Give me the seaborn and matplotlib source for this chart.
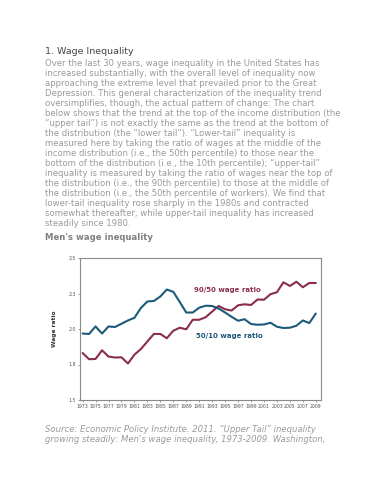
import matplotlib
matplotlib.use("Agg")
import matplotlib.pyplot as plt
import pandas as pd
import seaborn as sns

years = list(range(1973, 2010))
ratio_50_10 = [1.968, 1.965, 2.018, 1.968, 2.018, 2.014, 2.037, 2.06, 2.079, 2.148,
               2.194, 2.197, 2.229, 2.278, 2.262, 2.19, 2.116, 2.116, 2.15, 2.164,
               2.162, 2.144, 2.116, 2.086, 2.058, 2.069, 2.035, 2.03, 2.032, 2.044,
               2.016, 2.007, 2.009, 2.023, 2.06, 2.042, 2.109]
ratio_90_50 = [1.831, 1.787, 1.789, 1.85, 1.806, 1.799, 1.801, 1.757, 1.819, 1.859,
               1.912, 1.965, 1.965, 1.935, 1.988, 2.009, 1.998, 2.065, 2.065, 2.083,
               2.123, 2.162, 2.139, 2.13, 2.167, 2.174, 2.169, 2.208, 2.206, 2.245,
               2.259, 2.329, 2.303, 2.333, 2.294, 2.324, 2.324]
series_names = ["90/50 wage ratio", "50/10 wage ratio"]
y_ticks = [1.5, 1.75, 2.0, 2.25, 2.5]
y_tick_labels = ["1.5", "1.8", "2.0", "2.3", "2.5"]
x_ticks = list(range(1973, 2010, 2))

title = "1. Wage Inequality"
body = [
    "Over the last 30 years, wage inequality in the United States has",
    "increased substantially, with the overall level of inequality now",
    "approaching the extreme level that prevailed prior to the Great",
    "Depression. This general characterization of the inequality trend",
    "oversimplifies, though, the actual pattern of change: The chart",
    "below shows that the trend at the top of the income distribution (the",
    "\u201cupper tail\u201d) is not exactly the same as the trend at the bottom of",
    "the distribution (the \u201clower tail\u201d). \u201cLower-tail\u201d inequality is",
    "measured here by taking the ratio of wages at the middle of the",
    "income distribution (i.e., the 50th percentile) to those near the",
    "bottom of the distribution (i.e., the 10th percentile); \u201cupper-tail\u201d",
    "inequality is measured by taking the ratio of wages near the top of",
    "the distribution (i.e., the 90th percentile) to those at the middle of",
    "the distribution (i.e., the 50th percentile of workers). We find that",
    "lower-tail inequality rose sharply in the 1980s and contracted",
    "somewhat thereafter, while upper-tail inequality has increased",
    "steadily since 1980.",
]
subtitle = "Men's wage inequality"
source = [
    "Source: Economic Policy Institute. 2011. \u201cUpper Tail\u201d inequality",
    "growing steadily: Men's wage inequality, 1973-2009. Washington,",
]

df = pd.DataFrame({
    "year": years * 2,
    "ratio": ratio_90_50 + ratio_50_10,
    "series": [series_names[0]] * len(years) + [series_names[1]] * len(years),
})
colors = {series_names[0]: "#8a2d4d", series_names[1]: "#1d5a7a"}

sns.set_style("white")
plt.rcParams["font.family"] = ["DejaVu Sans"]

fig = plt.figure(figsize=(3.86, 5), dpi=100)
W, H = 386, 500

def fy(y):
    return 1 - y / H

fig.text(45 / W, fy(51), title, fontsize=6.8, color="#444444", va="center")
for i, line in enumerate(body):
    fig.text(45 / W, fy(63.7 + 10 * i), line, fontsize=6.1, color="#9a9a9a", va="center")
fig.text(45 / W, fy(238), subtitle, fontsize=6.1, color="#808080", weight="bold", va="center")
for i, line in enumerate(source):
    fig.text(45 / W, fy(429 + 10 * i), line, fontsize=6.15, color="#9a9a9a",
             style="italic", va="center")

ax = fig.add_axes([80 / W, fy(400), (321 - 80) / W, (400 - 258) / H])
sns.lineplot(data=df, x="year", y="ratio", hue="series", palette=colors,
             linewidth=1.5, legend=False, ax=ax)
ax.set_xlim(1972.6, 2009.8)
ax.set_ylim(1.5, 2.5)
ax.set_yticks(y_ticks)
ax.set_yticklabels(y_tick_labels)
ax.set_xticks(x_ticks)
ax.set_xticklabels([str(v) for v in x_ticks])
ax.tick_params(axis="both", labelsize=3.3, colors="#555555", length=1.5, width=0.4,
               pad=1.5, direction="out")
ax.tick_params(axis="x", bottom=True)
ax.tick_params(axis="y", left=True)
ax.set_xlabel("")
ax.set_ylabel("Wage ratio", fontsize=4.2, weight="bold", color="#333333", labelpad=8)
for s in ax.spines.values():
    s.set_color("#8a8a8a")
    s.set_linewidth(0.8)

ax.text(1995.3, 2.278, series_names[0], color=colors[series_names[0]], fontsize=5,
        weight="bold", ha="center", va="center")
ax.text(1995.7, 1.953, series_names[1], color=colors[series_names[1]], fontsize=5,
        weight="bold", ha="center", va="center")

fig.savefig("out.png", dpi=100)
